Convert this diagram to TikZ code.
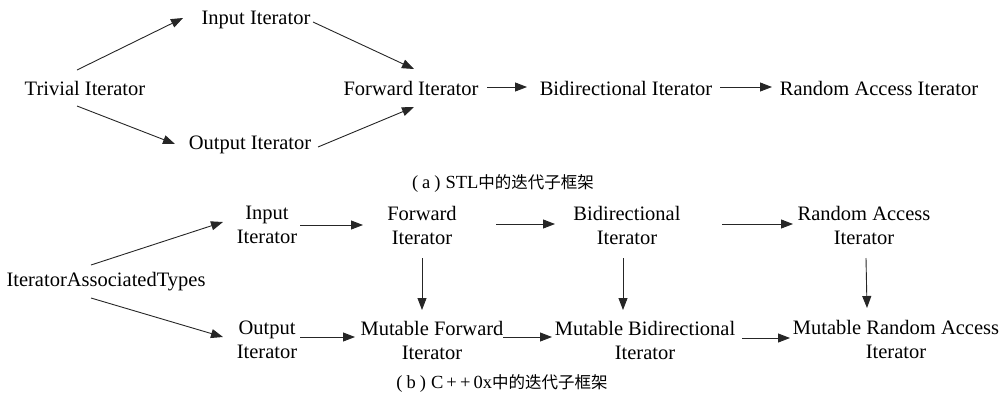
\documentclass[tikz,border=0pt]{standalone}
\usepackage{fontspec}
\setmainfont{Liberation Serif}
\newfontfamily\cjk{Noto Sans CJK SC}
\usetikzlibrary{arrows.meta}
\begin{document}
\begin{tikzpicture}[x=1pt,y=-1pt,
 lbl/.style={font=\fontsize{20.5}{24}\selectfont, align=center, inner sep=0pt},
 captext/.style={font=\fontsize{18.5}{20}\selectfont, inner sep=0pt},
 arr/.style={-{Triangle[length=12pt,width=9pt]}, line width=0.9pt, draw=black!85}]
\useasboundingbox (0,0) rectangle (1000,397);
% (a)
\node[lbl] (triv) at (85,88) {Trivial Iterator};
\node[lbl] (in1) at (256,20) {Input Iterator};
\node[lbl] (out1) at (250,145) {Output Iterator};
\node[lbl] (fwd1) at (411,88) {Forward Iterator};
\node[lbl] (bi1) at (626,88) {Bidirectional Iterator};
\node[lbl] (ra1) at (879,88) {Random Access Iterator};
\node[captext] (capa) at (503,184) {(\hspace{4pt}a\hspace{4pt})\hspace{5pt}STL{\cjk\fontsize{16.5}{20}\selectfont 中的迭代子框架}};
\draw[arr] ([shift={(-8,-18)}]triv.center) -- ([shift={(-73,-2)}]in1.center);
\draw[arr] ([shift={(57,2)}]in1.center) -- ([shift={(3,-19)}]fwd1.center);
\draw[arr] ([shift={(-8,18)}]triv.center) -- ([shift={(-75,-1)}]out1.center);
\draw[arr] ([shift={(68,2)}]out1.center) -- ([shift={(3,19)}]fwd1.center);
\draw[arr] ([shift={(76,-1)}]fwd1.center) -- ([shift={(-99,-1)}]bi1.center);
\draw[arr] ([shift={(94,-1)}]bi1.center) -- ([shift={(-107,-1)}]ra1.center);
% (b)
\node[lbl] (iat) at (106,282) {IteratorAssociatedTypes};
\node[lbl] (in2) at (267,225) {Input\\Iterator};
\node[lbl] (out2) at (267,340) {Output\\Iterator};
\node[lbl] (fwd2) at (422,225) {Forward\\Iterator};
\node[lbl] (bi2) at (627,225) {Bidirectional\\Iterator};
\node[lbl] (ra2) at (864,225) {Random Access\\Iterator};
\node[lbl] (mf) at (432,340) {Mutable Forward\\Iterator};
\node[lbl] (mb) at (645,340) {Mutable Bidirectional\\Iterator};
\node[lbl] (mr) at (896,339) {Mutable Random Access\\Iterator};
\node[captext] (capb) at (502,383) {(\hspace{4pt}b\hspace{4pt})\hspace{5pt}C\,+\,+\,0x{\cjk\fontsize{16.5}{20}\selectfont 中的迭代子框架}};
\draw[arr] ([shift={(-15,-17)}]iat.center) -- ([shift={(-44,-3)}]in2.center);
\draw[arr] ([shift={(-15,16)}]iat.center) -- ([shift={(-44,-3)}]out2.center);
\draw[arr] ([shift={(33,0)}]in2.center) -- ([shift={(-59,0)}]fwd2.center);
\draw[arr] ([shift={(74,-1)}]fwd2.center) -- ([shift={(-72,-1)}]bi2.center);
\draw[arr] ([shift={(95,-1)}]bi2.center) -- ([shift={(-71,-1)}]ra2.center);
\draw[arr] ([shift={(33,-3)}]out2.center) -- ([shift={(-77,-3)}]mf.center);
\draw[arr] ([shift={(71,-3)}]mf.center) -- ([shift={(-93,-3)}]mb.center);
\draw[arr] ([shift={(97,-2)}]mb.center) -- ([shift={(-106,-1)}]mr.center);
\draw[arr] ([shift={(0,33)}]fwd2.center) -- ([shift={(-10,-30)}]mf.center);
\draw[arr] ([shift={(-4,33)}]bi2.center) -- ([shift={(-22,-30)}]mb.center);
\draw[arr] ([shift={(2,33)}]ra2.center) -- ([shift={(-29,-31)}]mr.center);
\end{tikzpicture}
\end{document}
